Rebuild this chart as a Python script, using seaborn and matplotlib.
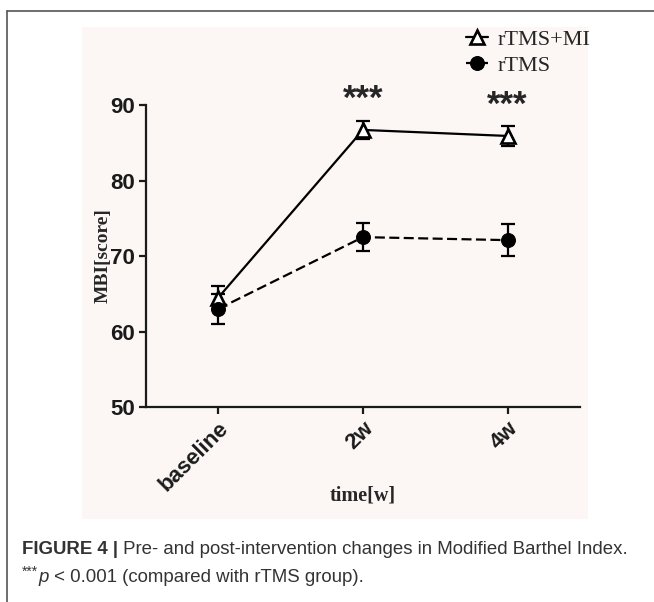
import numpy as np
import pandas as pd
import matplotlib
matplotlib.use('Agg')
import matplotlib.pyplot as plt
from matplotlib.patches import Rectangle
from matplotlib.lines import Line2D
import seaborn as sns

# 数据
times = ['baseline', '2w', '4w']
groups = ['rTMS+MI', 'rTMS']
mi_mean = [64.5, 86.7, 85.9]
mi_err = [1.5, 1.2, 1.3]
rtms_mean = [63.0, 72.5, 72.1]
rtms_err = [2.0, 1.9, 2.1]
sig = ['', '***', '***']
y_ticks = [50, 60, 70, 80, 90]

pos = list(range(len(times)))
df = pd.DataFrame({
    'pos': pos * 2,
    'score': mi_mean + rtms_mean,
    'err': mi_err + rtms_err,
    'group': [groups[0]] * 3 + [groups[1]] * 3,
})

sns.set_style('ticks')
plt.rcParams['font.family'] = ['Liberation Sans', 'DejaVu Sans']

fig = plt.figure(figsize=(6.54, 6.02), dpi=100)
fig.patch.set_facecolor('white')

# 背景浅粉色面板
fig.add_artist(Rectangle((82 / 654, 83 / 602), 506 / 654, 492 / 602,
                         transform=fig.transFigure, facecolor='#fcf7f5',
                         edgecolor='none', zorder=-5))
# 外框线（上、左）
fig.add_artist(Line2D([7 / 654, 1], [591 / 602, 591 / 602], transform=fig.transFigure,
                      color='#555555', lw=1.2))
fig.add_artist(Line2D([7 / 654, 7 / 654], [0, 591 / 602], transform=fig.transFigure,
                      color='#555555', lw=1.2))

ax = fig.add_axes([146 / 654, 195 / 602, 434 / 654, 302 / 602])
ax.set_facecolor('none')
ax.set_zorder(2)

styles = {
    'rTMS+MI': dict(marker='^', markerfacecolor='white', markeredgecolor='black',
                    markersize=10, markeredgewidth=1.9, linestyle='-'),
    'rTMS': dict(marker='o', markerfacecolor='black', markeredgecolor='black',
                 markersize=10, linestyle=(0, (4.5, 2))),
}
for g in groups:
    sub = df[df['group'] == g]
    ax.errorbar(sub['pos'], sub['score'], yerr=sub['err'], fmt='none',
                ecolor='black', elinewidth=1.6, capsize=5, capthick=1.6,
                clip_on=False, zorder=3)
    sns.lineplot(data=sub, x='pos', y='score', color='black', lw=1.6,
                 label=g, ax=ax, clip_on=False, zorder=4, **styles[g])

# 显著性标记
for i, s in enumerate(sig):
    if s:
        ax.text(pos[i], mi_mean[i] + mi_err[i] + 2.8, s, ha='center', va='center',
                fontsize=25, fontweight='bold', clip_on=False)

ax.set_xlim(-0.5, 2.5)
ax.set_ylim(50, 90)
ax.set_yticks(y_ticks)
ax.set_xticks(pos)
ax.set_xticklabels(times, rotation=45, ha='right', rotation_mode='anchor')
for lab in ax.get_xticklabels() + ax.get_yticklabels():
    lab.set_fontweight('bold')
    lab.set_fontsize(16)
    lab.set_color('#1a1a1a')

sns.despine(ax=ax)
for sp in ['left', 'bottom']:
    ax.spines[sp].set_linewidth(1.6)
    ax.spines[sp].set_color('#1a1a1a')
ax.tick_params(axis='both', length=5, width=1.6, color='#1a1a1a', pad=3)

ax.set_xlabel('time[w]', family='Liberation Serif', fontweight='bold', fontsize=14.5)
ax.set_ylabel('MBI[score]', family='Liberation Serif', fontweight='bold', fontsize=14)
ax.xaxis.set_label_coords(0.5, -0.26)
ax.yaxis.set_label_coords(-0.08, 0.5)

ax.legend(frameon=False, loc='upper left', bbox_to_anchor=(455 / 654, 1 - 18 / 602),
          bbox_transform=fig.transFigure, prop={'family': 'Liberation Serif', 'size': 16},
          borderpad=0, handlelength=1.0, handletextpad=0.4, labelspacing=0.25)

# 图注
cap_color = '#333333'
cap_size = 13.4
t1 = fig.text(22 / 654, (602 - 554) / 602, 'FIGURE 4 |', fontsize=cap_size,
              fontweight='bold', color=cap_color, va='baseline')
fig.add_artist(plt.Annotation(' Pre- and post-intervention changes in Modified Barthel Index.',
                              xy=(1, 0), xycoords=t1, fontsize=cap_size,
                              color=cap_color, va='bottom'))
t2 = fig.text(22 / 654, (602 - 579) / 602, '***', fontsize=10, color=cap_color,
              va='bottom')
t3 = fig.add_artist(plt.Annotation('p', xy=(1, 0), xycoords=t2, xytext=(0.3, -5),
                                   textcoords='offset points', fontsize=cap_size,
                                   style='italic', color=cap_color, va='bottom'))
fig.add_artist(plt.Annotation(' < 0.001 (compared with rTMS group).', xy=(1, 0),
                              xycoords=t3, fontsize=cap_size, color=cap_color,
                              va='bottom'))

fig.savefig('out.png', dpi=100)
